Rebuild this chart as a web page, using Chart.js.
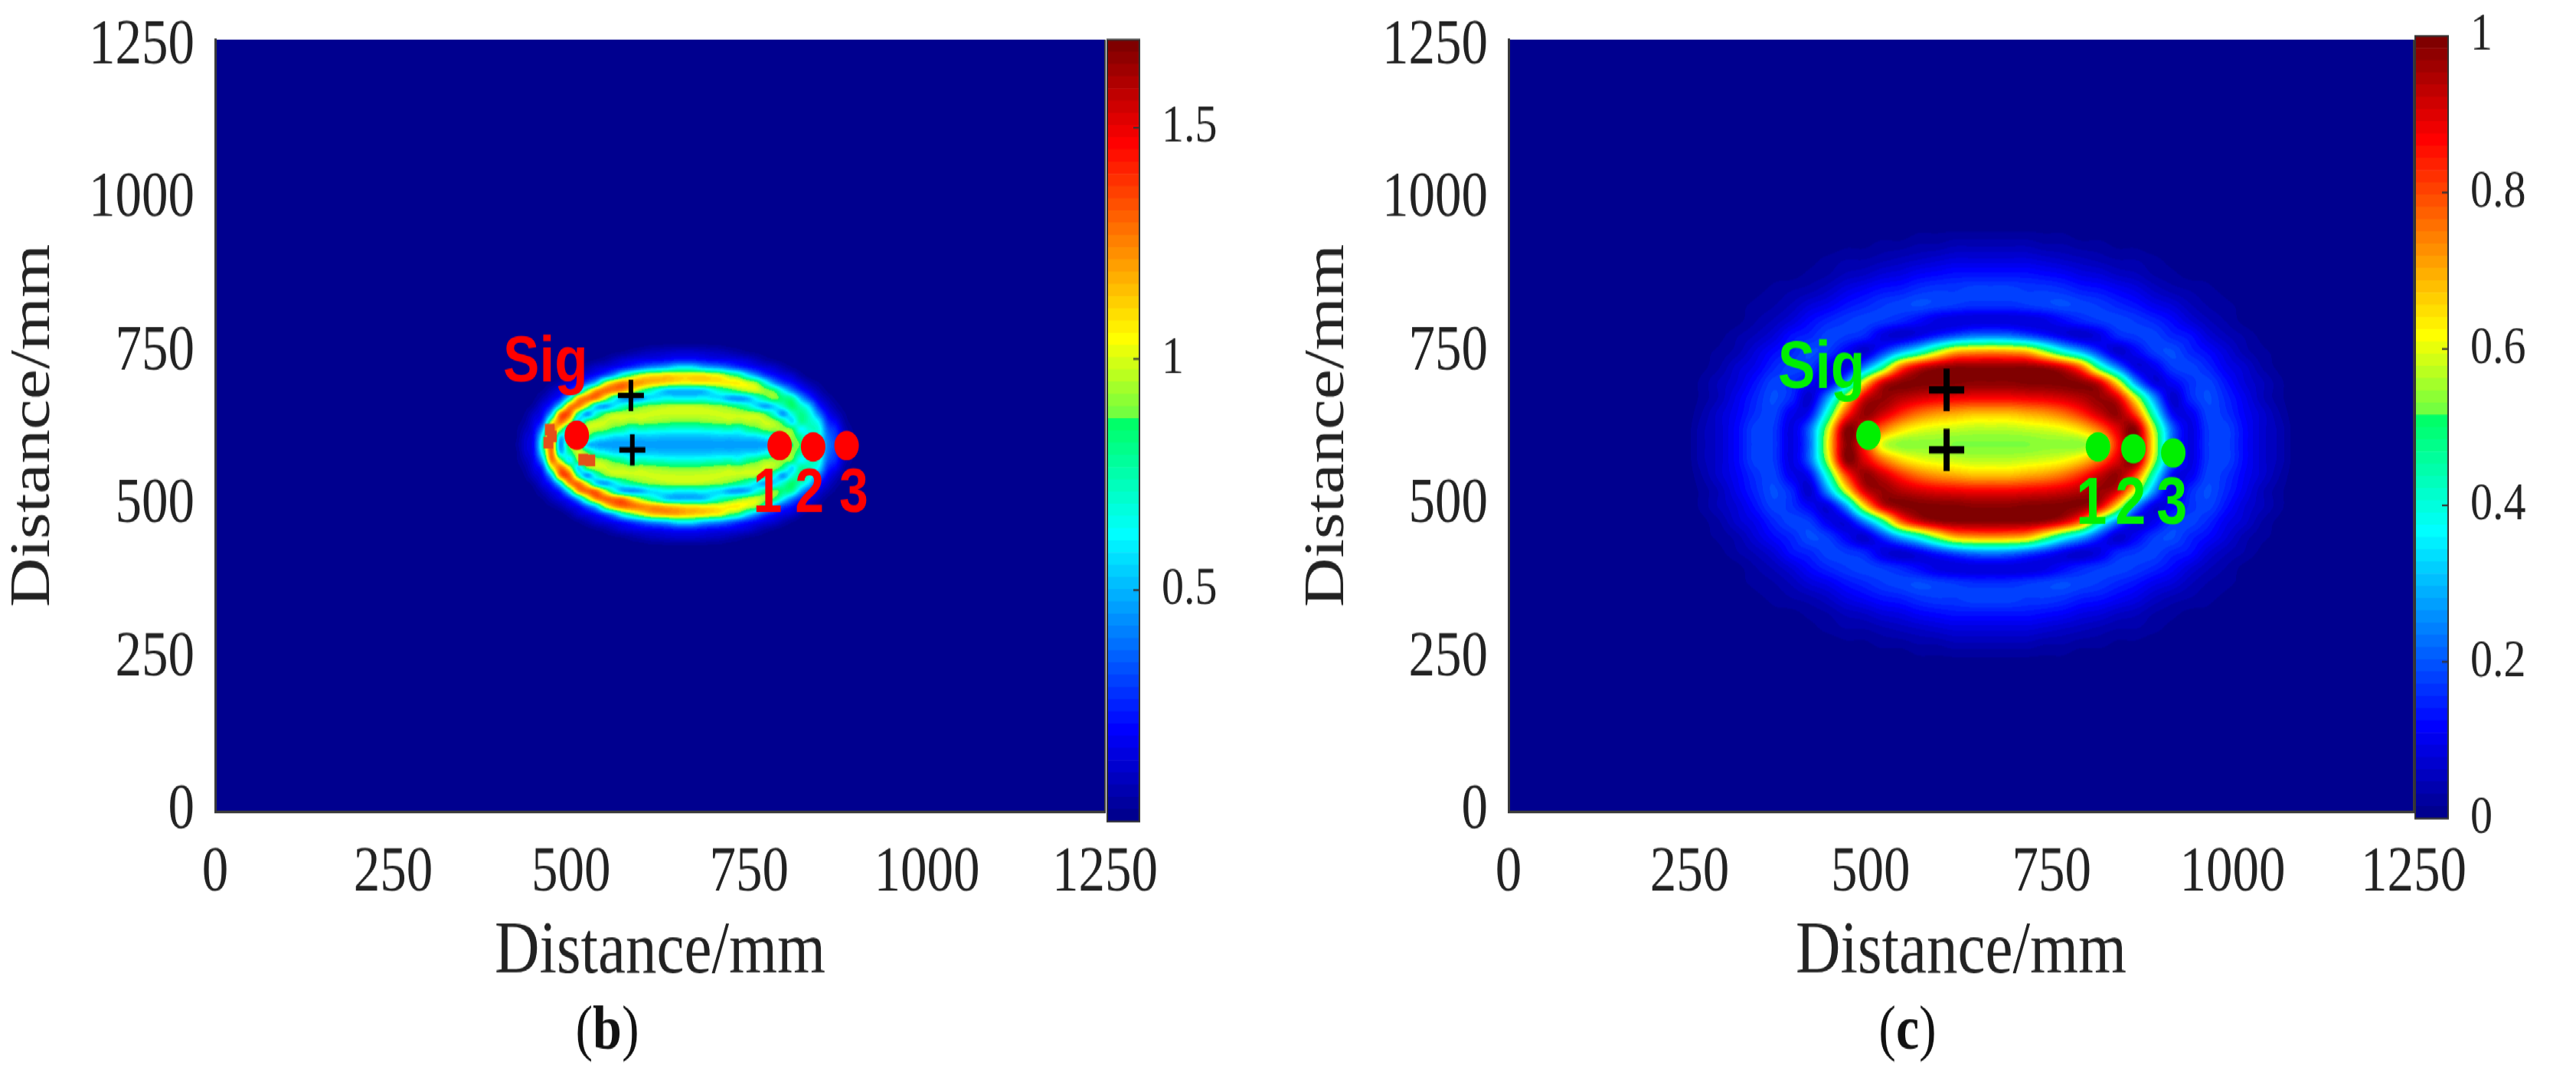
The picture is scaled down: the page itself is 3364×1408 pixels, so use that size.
<!DOCTYPE html>
<html><head><meta charset="utf-8"><title>Distance maps</title>
<style>
html,body{margin:0;padding:0;background:#fff;overflow:hidden;width:3364px;height:1408px}
#stage{position:absolute;left:0;top:0;width:3364px;height:1173px;transform-origin:0 0;transform:scale(1,1.20034)}
canvas{position:absolute;display:block}
</style></head><body><div id="stage">
<canvas id="mapB"></canvas><canvas id="barB"></canvas><canvas id="mapC"></canvas><canvas id="barC"></canvas>
</div>
<script src="https://cdn.jsdelivr.net/npm/chart.js@4/dist/chart.umd.min.js"></script>
<script>
// ---------- data ----------
const axisTicks = [0, 250, 500, 750, 1000, 1250];
const axisTitle = "Distance/mm";
const barTicksB = [0.5, 1, 1.5];
const barTicksC = [0, 0.2, 0.4, 0.6, 0.8, 1];
const colorMaxB = 1.69;
const colorMaxC = 1;

// panel (b): values x100, rows from high distance to low distance
const gridB = {x0: 410, dx: 12.5, y0: 422.8, dy: 12.62, unit: 100};
const heatB = [
[0,0,0,0,0,0,0,0,0,0,0,0,0,0,0,0,0,0,0,0,0,0,0,0,0,0,0,0,0,0,0,0,0,0,0,0,0,0,0,0,0],
[0,0,0,0,0,0,0,0,0,0,0,0,0,0,1,1,2,2,3,3,3,3,3,2,2,1,1,0,0,0,0,0,0,0,0,0,0,0,0,0,0],
[0,0,0,0,0,0,0,0,0,0,0,1,2,3,5,7,9,10,11,12,12,12,11,10,9,7,5,3,2,1,0,0,0,0,0,0,0,0,0,0,0],
[0,0,0,0,0,0,0,0,0,1,3,5,9,13,15,17,18,19,21,23,23,23,21,19,18,17,15,13,9,5,3,1,0,0,0,0,0,0,0,0,0],
[0,0,0,0,0,0,0,1,3,7,12,15,19,24,30,37,44,48,52,60,62,60,52,48,44,37,30,24,19,15,12,7,3,1,0,0,0,0,0,0,0],
[0,0,0,0,0,0,1,5,12,16,22,33,48,70,85,98,105,107,110,108,107,108,108,104,100,88,80,60,45,30,22,16,12,5,1,0,0,0,0,0,0],
[0,0,0,0,1,3,7,14,20,36,55,95,115,125,122,120,115,112,108,105,102,104,105,105,106,106,106,100,92,68,45,30,22,14,7,3,0,0,0,0,0],
[0,0,0,1,3,9,16,26,50,90,120,128,125,120,105,88,75,62,52,50,50,50,52,62,72,80,88,95,98,92,85,62,42,26,16,8,2,0,0,0,0],
[0,0,0,2,8,16,28,65,115,128,125,100,70,50,45,48,57,60,64,62,62,62,64,60,57,48,45,50,65,80,90,82,78,50,30,15,7,2,0,0,0],
[0,0,1,5,15,28,65,120,125,98,58,47,58,71,80,86,91,93,95,96,96,96,95,93,91,86,80,71,58,47,56,70,85,72,55,26,13,5,1,0,0],
[0,0,3,11,20,55,125,130,78,46,68,87,95,96,97,98,98,98,98,98,98,98,98,98,98,98,97,96,95,87,68,46,66,80,68,42,20,10,3,0,0],
[0,1,5,15,30,95,128,102,57,87,96,98,96,96,93,95,93,92,90,89,89,89,90,92,93,95,93,96,96,98,94,80,57,78,72,60,28,18,5,1,0],
[0,2,8,18,50,125,95,60,92,98,95,91,83,78,68,72,70,69,68,67,67,67,68,69,70,72,68,78,83,91,92,92,88,62,70,68,36,25,8,2,0],
[0,2,11,21,68,128,55,78,98,88,68,62,56,55,53,52,53,52,51,51,51,51,51,52,53,52,53,55,56,62,68,90,92,78,58,64,40,28,11,2,0],
[0,3,12,22,75,128,45,90,95,55,48,46,46,46,46,46,46,46,46,46,46,46,46,46,46,46,46,46,46,46,48,60,85,85,52,62,42,30,12,3,0],
[0,2,11,21,68,128,55,78,98,88,68,62,56,55,53,52,53,52,51,51,51,51,51,52,53,52,53,55,56,62,68,90,92,78,58,64,40,28,11,2,0],
[0,2,8,18,50,125,95,60,92,98,95,91,83,78,68,72,70,69,68,67,67,67,68,69,70,72,68,78,83,91,92,92,88,62,70,68,36,25,8,2,0],
[0,1,5,15,30,95,128,102,57,87,96,98,96,96,93,95,93,92,90,89,89,89,90,92,93,95,93,96,96,98,94,80,57,78,72,60,28,18,5,1,0],
[0,0,3,11,20,55,125,130,78,46,68,87,95,96,97,98,98,98,98,98,98,98,98,98,98,98,97,96,95,87,68,46,66,80,68,42,20,10,3,0,0],
[0,0,1,5,15,28,65,120,128,98,58,47,58,71,80,86,91,93,95,96,96,96,95,93,91,86,80,71,58,47,56,70,85,72,55,26,13,5,1,0,0],
[0,0,0,2,8,16,28,65,118,130,128,100,70,50,45,48,57,60,64,62,62,62,64,60,57,48,45,50,65,80,90,82,78,50,30,15,7,2,0,0,0],
[0,0,0,1,3,9,16,26,50,90,122,130,128,125,108,92,78,66,54,50,50,50,52,62,72,80,88,95,98,92,85,62,42,26,16,8,2,0,0,0,0],
[0,0,0,0,1,3,7,14,20,36,55,95,118,128,128,125,122,120,115,112,108,108,105,105,104,106,106,100,92,68,45,30,22,14,7,3,0,0,0,0,0],
[0,0,0,0,0,0,1,5,12,16,22,33,48,70,85,98,110,115,118,118,115,112,110,106,102,88,80,60,45,30,22,16,12,5,1,0,0,0,0,0,0],
[0,0,0,0,0,0,0,1,3,7,12,15,19,24,30,37,44,48,52,60,62,60,52,48,44,37,30,24,19,15,12,7,3,1,0,0,0,0,0,0,0],
[0,0,0,0,0,0,0,0,0,1,3,5,9,13,15,17,18,19,21,23,23,23,21,19,18,17,15,13,9,5,3,1,0,0,0,0,0,0,0,0,0],
[0,0,0,0,0,0,0,0,0,0,0,1,2,3,5,7,9,10,11,12,12,12,11,10,9,7,5,3,2,1,0,0,0,0,0,0,0,0,0,0,0],
[0,0,0,0,0,0,0,0,0,0,0,0,0,0,1,1,2,2,3,3,3,3,3,2,2,1,1,0,0,0,0,0,0,0,0,0,0,0,0,0,0],
[0,0,0,0,0,0,0,0,0,0,0,0,0,0,0,0,0,0,0,0,0,0,0,0,0,0,0,0,0,0,0,0,0,0,0,0,0,0,0,0,0]
];
// panel (c): values x100
const gridC = {x0: 266, dx: 25, y0: 246.4, dy: 25.26, unit: 100};
const heatC = [
[0,0,0,0,0,0,0,0,0,0,0,0,1,1,1,1,1,1,1,1,1,0,0,0,0,0,0,0,0,0,0,0,0],
[0,0,0,0,0,0,0,0,1,1,2,2,3,3,4,4,4,4,4,3,3,2,2,1,1,0,0,0,0,0,0,0,0],
[0,0,0,0,0,1,1,2,3,3,4,5,6,7,8,8,8,8,8,7,6,5,4,3,3,2,1,1,0,0,0,0,0],
[0,0,0,0,1,1,2,3,5,6,8,9,11,12,13,13,13,13,13,12,11,9,8,6,5,3,2,1,1,0,0,0,0],
[0,0,0,1,2,3,4,6,9,11,13,14,16,17,17,18,18,18,17,17,16,14,13,11,9,6,4,3,2,1,0,0,0],
[0,0,1,2,3,5,8,10,13,15,17,18,19,18,17,16,16,16,17,18,19,18,17,15,13,10,8,5,3,2,1,0,0],
[0,0,1,3,5,8,12,15,17,18,17,15,12,9,8,8,8,8,8,9,12,15,17,18,17,15,12,8,5,3,1,0,0],
[0,1,3,5,8,13,15,18,17,15,9,7,10,15,20,24,25,24,20,15,10,7,9,15,17,18,15,13,8,5,3,1,0],
[1,2,4,8,12,15,19,17,11,7,16,29,40,55,68,71,72,71,68,55,40,29,16,7,11,17,19,15,12,8,4,2,1],
[1,3,7,10,15,18,17,10,9,24,46,76,90,96,98,98,98,98,98,96,90,76,46,24,9,10,17,18,15,10,7,3,1],
[2,5,8,13,18,16,11,9,27,63,90,98,99,99,99,98,98,98,99,99,99,98,90,63,27,9,11,16,18,13,8,5,2],
[2,5,10,15,19,15,7,27,60,90,97,94,91,89,88,87,87,87,88,89,91,94,97,90,60,27,7,15,19,15,10,5,2],
[3,7,11,16,18,10,12,42,80,97,92,83,76,72,70,68,68,68,70,72,76,83,92,97,80,42,12,10,18,16,11,7,3],
[4,7,12,18,17,9,22,58,98,90,76,66,61,59,58,57,57,57,58,59,61,66,76,90,98,58,22,9,17,18,12,7,4],
[4,7,12,18,17,9,22,62,98,85,60,54,54,54,53,53,53,53,53,54,54,54,60,85,98,62,22,9,17,18,12,7,4],
[4,7,12,18,17,9,22,58,98,90,76,66,61,59,58,57,57,57,58,59,61,66,76,90,98,58,22,9,17,18,12,7,4],
[3,7,11,16,18,10,12,42,80,97,92,83,76,72,70,68,68,68,70,72,76,83,92,97,80,42,12,10,18,16,11,7,3],
[2,5,10,15,19,15,7,27,60,90,97,94,91,89,88,87,87,87,88,89,91,94,97,90,60,27,7,15,19,15,10,5,2],
[2,5,8,13,18,16,11,9,27,63,90,98,99,99,99,98,98,98,99,99,99,98,90,63,27,9,11,16,18,13,8,5,2],
[1,3,7,10,15,18,17,10,9,24,46,76,90,96,98,98,98,98,98,96,90,76,46,24,9,10,17,18,15,10,7,3,1],
[1,2,4,8,12,15,19,17,11,7,16,29,40,55,68,71,72,71,68,55,40,29,16,7,11,17,19,15,12,8,4,2,1],
[0,1,3,5,8,13,15,18,17,15,9,7,10,15,20,24,25,24,20,15,10,7,9,15,17,18,15,13,8,5,3,1,0],
[0,0,1,3,5,8,12,15,17,18,17,15,12,9,8,8,8,8,8,9,12,15,17,18,17,15,12,8,5,3,1,0,0],
[0,0,1,2,3,5,8,10,13,15,17,18,19,18,17,16,16,16,17,18,19,18,17,15,13,10,8,5,3,2,1,0,0],
[0,0,0,1,2,3,4,6,9,11,13,14,16,17,17,18,18,18,17,17,16,14,13,11,9,6,4,3,2,1,0,0,0],
[0,0,0,0,1,1,2,3,5,6,8,9,11,12,13,13,13,13,13,12,11,9,8,6,5,3,2,1,1,0,0,0,0],
[0,0,0,0,0,1,1,2,3,3,4,5,6,7,8,8,8,8,8,7,6,5,4,3,3,2,1,1,0,0,0,0,0],
[0,0,0,0,0,0,0,0,1,1,2,2,3,3,4,4,4,4,4,3,3,2,2,1,1,0,0,0,0,0,0,0,0],
[0,0,0,0,0,0,0,0,0,0,0,0,1,1,1,1,1,1,1,1,1,0,0,0,0,0,0,0,0,0,0,0,0]
];

// markers
const sigB = [{x: 508, y: 615}];
const nodesB = [{x: 793, y: 598}, {x: 840, y: 596}, {x: 887, y: 598}];
const crossB = [{x: 584, y: 680}, {x: 586, y: 591}];
const speckB = [{x: 470, y: 624}, {x: 473, y: 613}, {x: 468, y: 603}, {x: 517, y: 575}, {x: 527, y: 574}];
const sigC = [{x: 497, y: 615}];
const nodesC = [{x: 814, y: 596}, {x: 863, y: 593}, {x: 918, y: 586}];
const crossC = [{x: 605, y: 689}, {x: 605, y: 591}];
const labelsB = [{t: "Sig", x: 464, y: 703}, {t: "1", x: 776, y: 490}, {t: "2", x: 835, y: 490}, {t: "3", x: 897, y: 490}];
const labelsC = [{t: "Sig", x: 432, y: 692}, {t: "1", x: 805, y: 470}, {t: "2", x: 859, y: 470}, {t: "3", x: 916, y: 470}];

// ---------- colour map ----------
function clamp01(v){return v<0?0:v>1?1:v;}
function levelColor(i){
  const t=(i+1)/64;
  let r=clamp01(Math.min(4*t-1.5,-4*t+4.5)), g=clamp01(Math.min(4*t-0.5,-4*t+3.5)), b=clamp01(Math.min(4*t+0.5,-4*t+2.5));
  if(t>=0.375&&t<0.53){r=0;g=1;b=1-(t-0.375)/0.155*0.65;}
  else if(t>=0.53&&t<=0.625){r=0.45+0.55*(t-0.53)/0.095;g=1;b=0.25*(1-(t-0.53)/0.095);}
  return [Math.round(r*255),Math.round(g*255),Math.round(b*255)];
}
const LEVELS=[];for(let i=0;i<64;i++)LEVELS.push(levelColor(i));

// ---------- smooth display of a typed grid ----------
function cr(a,b,c,d,t){return b+0.5*t*(c-a+t*(2*a-5*b+4*c-d+t*(3*(b-c)+d-a)));}
function sampler(rows,g){
  const nr=rows.length,nc=rows[0].length;
  const at=(r,c)=>(r<0||c<0||r>=nr||c>=nc)?0:rows[r][c]/g.unit;
  return (x,y)=>{
    const cf=(x-g.x0)/g.dx, rf=(g.y0+(nr-1)*g.dy-y)/g.dy;
    if(cf<-1||rf<-1||cf>nc||rf>nr)return 0;
    const c=Math.floor(cf),r=Math.floor(rf),u=cf-c,w=rf-r,col=[];
    for(let k=-1;k<=2;k++)col.push(cr(at(r+k,c-1),at(r+k,c),at(r+k,c+1),at(r+k,c+2),u));
    return cr(col[0],col[1],col[2],col[3],w);
  };
}
function heatPlugin(rows,g,max){
  let off=null;
  return {id:'heat',beforeDatasetsDraw(chart){
    const a=chart.chartArea,xs=chart.scales.x,ys=chart.scales.y;
    const W=Math.round(a.right-a.left),H=Math.round(a.bottom-a.top);
    if(!off){
      off=document.createElement('canvas');off.width=W;off.height=H;
      const oc=off.getContext('2d'),img=oc.createImageData(W,H),s=sampler(rows,g);
      for(let j=0;j<H;j++){const y=ys.getValueForPixel(a.top+j+0.5);
        for(let i=0;i<W;i++){
          const v=s(xs.getValueForPixel(a.left+i+0.5),y);
          let l=Math.floor(v/max*64);l=l<0?0:l>63?63:l;
          const c=LEVELS[l],p=(j*W+i)*4;
          img.data[p]=c[0];img.data[p+1]=c[1];img.data[p+2]=c[2];img.data[p+3]=255;
        }}
      oc.putImageData(img,0,0);
    }
    chart.ctx.drawImage(off,a.left,a.top);
  }};
}
function labelPlugin(labels,color,sigFont,numFont,caption,capX){
  return {id:'labels',afterDatasetsDraw(chart){
    const c=chart.ctx,xs=chart.scales.x,ys=chart.scales.y;
    c.save();c.fillStyle=color;c.textAlign='center';c.textBaseline='alphabetic';
    labels.forEach(l=>{c.font='bold '+(l.t==='Sig'?sigFont:numFont)+'px "Liberation Sans"';
      c.fillText(l.t,xs.getPixelForValue(l.x),ys.getPixelForValue(l.y));});
    c.restore();
  },afterDraw(chart){
    const c=chart.ctx,a=chart.chartArea;c.save();
    c.strokeStyle='#3a3a3a';c.lineWidth=2;c.beginPath();c.moveTo(a.right,a.top);c.lineTo(a.right,a.bottom);c.stroke();
    c.fillStyle='#111';c.textBaseline='alphabetic';c.textAlign='left';
    const reg='68px "Liberation Serif"',bold='bold 68px "Liberation Serif"';
    c.font=reg;const w1=c.measureText('(').width,w3=c.measureText(')').width;
    c.font=bold;const w2=c.measureText(caption).width;
    let x=capX-(w1+w2+w3)/2;const y=1141;
    c.font=reg;c.fillText('(',x,y);x+=w1;
    c.font=bold;c.fillText(caption,x,y);x+=w2;
    c.font=reg;c.fillText(')',x,y);
    c.restore();
  }};
}

// ---------- charts ----------
const STAGE_H=1173,K=1408/1173;
function place(id,left,width){const el=document.getElementById(id);el.width=width;el.height=STAGE_H;el.style.left=left+'px';el.style.top='0';el.style.width=width+'px';el.style.height=STAGE_H+'px';return el;}

function mapChart(id,left,width,plotLeft,plotRight,rows,g,max,sets,plugins){
  const el=place(id,left,width);
  return new Chart(el,{type:'scatter',data:{datasets:sets},plugins:plugins,options:{
    responsive:false,animation:false,events:[],
    layout:{padding:{left:0,top:52/K,right:left+width-plotRight,bottom:0}},
    plugins:{legend:{display:false},tooltip:{enabled:false}},
    scales:{
      x:{type:'linear',min:0,max:1250,
        afterBuildTicks:s=>{s.ticks=axisTicks.map(v=>({value:v}));},
        afterFit:s=>{s.height=STAGE_H-1060/K;s.paddingLeft=0;s.paddingRight=0;},
        grid:{display:false,drawTicks:false},border:{display:true,color:'#3a3a3a',width:3,z:1},
        ticks:{autoSkip:false,maxRotation:0,minRotation:0,color:'#222',padding:26,font:{family:'"Liberation Serif"',size:69},callback:v=>String(v)},
        title:{display:true,text:axisTitle,color:'#222',font:{family:'"Liberation Serif"',size:81},padding:{top:0,bottom:88}}},
      y:{type:'linear',min:0,max:1261,
        afterBuildTicks:s=>{s.ticks=axisTicks.map(v=>({value:v}));},
        afterFit:s=>{s.width=plotLeft-left;s.paddingTop=0;s.paddingBottom=0;},
        grid:{display:false,drawTicks:false},border:{display:true,color:'#3a3a3a',width:3,z:1},
        ticks:{autoSkip:false,color:'#222',padding:27,font:{family:'"Liberation Serif"',size:69},callback:v=>String(v)},
        title:{display:true,text:axisTitle,color:'#222',font:{family:'"Liberation Serif"',size:74},padding:{top:0,bottom:0}}}
    }}});
}
function pointSet(label,data,style,radius,fill,border,bw){
  return {label,data,pointStyle:style,pointRadius:radius,pointBackgroundColor:fill,pointBorderColor:border,pointBorderWidth:bw,showLine:false};
}
function barChart(id,left,width,barW,top,bottom,max,ticks){
  const el=place(id,left,width);
  const sets=[];
  for(let i=0;i<64;i++){const c=LEVELS[i];sets.push({label:'level '+i,data:[[i/64*max,(i+1)/64*max]],backgroundColor:'rgb('+c.join(',')+')',borderWidth:0,grouped:false,barPercentage:1,categoryPercentage:1});}
  return new Chart(el,{type:'bar',data:{labels:['scale'],datasets:sets},plugins:[{id:'frame',afterDraw(chart){
    const a=chart.chartArea,c=chart.ctx,ys=chart.scales.y;
    c.save();c.strokeStyle='#333';c.lineWidth=2;c.strokeRect(a.left+1,a.top,a.right-a.left-2,a.bottom-a.top);
    c.beginPath();ticks.forEach(v=>{const p=ys.getPixelForValue(v);if(v>0&&v<max){c.moveTo(a.right-9,p);c.lineTo(a.right-1,p);}});c.stroke();c.restore();
  }}],options:{responsive:false,animation:false,events:[],
    layout:{padding:{left:0,right:0,top:top/K,bottom:STAGE_H-bottom/K}},
    plugins:{legend:{display:false},tooltip:{enabled:false}},
    scales:{
      x:{display:false,stacked:false},
      y:{position:'right',type:'linear',min:0,max:max,
        afterBuildTicks:s=>{s.ticks=ticks.map(v=>({value:v}));},
        afterFit:s=>{s.width=width-barW;s.paddingTop=0;s.paddingBottom=0;},
        grid:{display:false,drawTicks:false},border:{display:false},
        ticks:{autoSkip:false,color:'#222',padding:28,font:{family:'"Liberation Serif"',size:58},callback:v=>String(v)}}
    }}});
}

mapChart('mapB',0,1620,281,1443,heatB,gridB,colorMaxB,[
  pointSet('Specks',speckB,'rect',9,'#e4501a','#e4501a',0),
  pointSet('Nodes',nodesB,'circle',16,'#ff0000','#ff0000',0),
  pointSet('Sig',sigB,'circle',16,'#ff0000','#ff0000',0),
  pointSet('Foci',crossB,'cross',17,'#000','#000',6)
],[heatPlugin(heatB,gridB,colorMaxB),labelPlugin(labelsB,'#ff0000',71,68,'b',793)]);
barChart('barB',1445,170,44,52,1073,colorMaxB,barTicksB);

mapChart('mapC',1690,1660,1970,3152,heatC,gridC,colorMaxC,[
  pointSet('Nodes',nodesC,'circle',16,'#00f000','#00f000',0),
  pointSet('Sig',sigC,'circle',16,'#00f000','#00f000',0),
  pointSet('Foci',crossC,'cross',23,'#000','#000',8)
],[heatPlugin(heatC,gridC,colorMaxC),labelPlugin(labelsC,'#00f000',73,72,'c',2491-1690)]);
barChart('barC',3153,170,45,47,1069,colorMaxC,barTicksC);
</script></body></html>
